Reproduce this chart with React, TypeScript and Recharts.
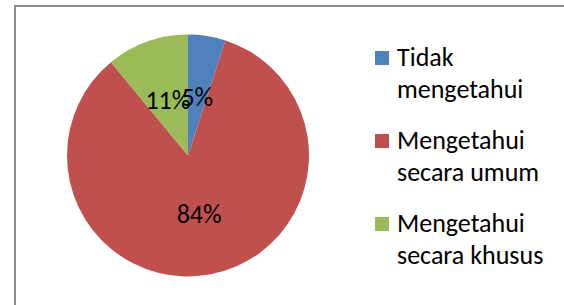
import React from "react";
import { PieChart, Pie, Cell, Legend } from "recharts";

const categories = ["Tidak mengetahui", "Mengetahui secara umum", "Mengetahui secara khusus"];
const legendLines = [
  ["Tidak", "mengetahui"],
  ["Mengetahui", "secara umum"],
  ["Mengetahui", "secara khusus"],
];
const values = [5, 84, 11];
const colors = ["#4F81BD", "#C0504D", "#9BBB59"];

const data = categories.map((name, i) => ({ name, value: values[i] }));

const FONT = "Carlito, Calibri, 'Open Sans', sans-serif";
const RADIAN = Math.PI / 180;

const renderLabel = (props: any) => {
  const { cx, cy, midAngle, outerRadius, percent } = props;
  const r = outerRadius * 0.49;
  const x = cx + r * Math.cos(-midAngle * RADIAN);
  const y = cy + r * Math.sin(-midAngle * RADIAN);
  return (
    <text
      x={x}
      y={y}
      fill="#000"
      textAnchor="middle"
      dominantBaseline="central"
      fontSize={26}
      fontFamily={FONT}
    >
      {`${Math.round(percent * 100)}%`}
    </text>
  );
};

const LegendBox = () => (
  <div style={{ position: "relative", fontFamily: FONT, fontSize: 26, color: "#000" }}>
    {legendLines.map((lines, i) => (
      <div key={i} style={{ position: "absolute", left: 0, top: i * 83, width: 190 }}>
        <div
          style={{
            position: "absolute",
            left: 0,
            top: 9,
            width: 14,
            height: 14,
            background: colors[i],
          }}
        />
        <div style={{ position: "absolute", left: 22, top: 0, lineHeight: "31.5px", whiteSpace: "nowrap" }}>
          {lines.map((l, j) => (
            <div key={j}>{l}</div>
          ))}
        </div>
      </div>
    ))}
  </div>
);

export default function App() {
  return (
    <div style={{ position: "absolute", left: 0, top: 0, width: 564, height: 305, background: "#fff", overflow: "hidden" }}>
      <div
        style={{
          position: "absolute",
          left: 14,
          top: 5,
          width: 600,
          height: 400,
          border: "2px solid #8c8c8c",
          boxSizing: "border-box",
        }}
      />
      <PieChart
        width={564}
        height={305}
        margin={{ top: 0, right: 0, bottom: 0, left: 0 }}
        style={{ position: "absolute", left: 0, top: 0 }}
      >
        <Pie
          data={data}
          dataKey="value"
          nameKey="name"
          cx={188}
          cy={155.5}
          outerRadius={121}
          startAngle={90}
          endAngle={-270}
          stroke="none"
          label={renderLabel}
          labelLine={false}
          isAnimationActive={false}
        >
          {data.map((d, i) => (
            <Cell key={d.name} fill={colors[i]} />
          ))}
        </Pie>
        <Legend
          content={() => <LegendBox />}
          wrapperStyle={{ position: "absolute", left: 375, top: 42, width: 190, height: 240 }}
        />
      </PieChart>
    </div>
  );
}
